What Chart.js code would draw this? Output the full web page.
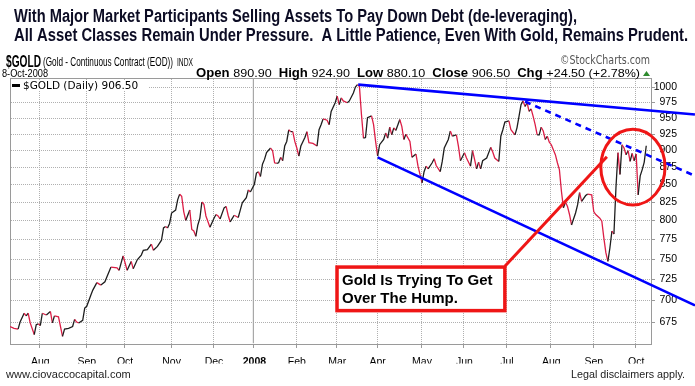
<!DOCTYPE html>
<html>
<head>
<meta charset="utf-8">
<script src="https://cdn.jsdelivr.net/npm/chart.js@4/dist/chart.umd.min.js"></script>
<style>
  html, body { margin: 0; padding: 0; background: #fff; overflow: hidden; }
</style>
</head>
<body>
<canvas id="goldChart" width="695" height="386"></canvas>

<script>
// trading day index (0 = 11-Jul-2007) and the close
const days = [
  0, 2, 4, 5, 7, 8, 9, 10, 12, 13, 14, 15, 16, 18, 20, 21, 22, 24, 26, 27, 29, 31, 32, 33, 34, 36, 37, 38, 40, 41,
  43, 45, 47, 48, 50, 53, 54, 56, 57, 58, 60, 61, 63, 65, 66, 68, 70, 71, 73, 75, 76, 77, 78, 79, 80, 82,
  83, 84, 85, 86, 87, 89, 90, 91, 92, 93, 94, 95, 96, 97, 99, 101, 102, 103, 104, 106, 107, 108, 109, 111, 113, 114,
  115, 117, 118, 119, 121, 122, 123, 124, 125, 126, 127, 129, 130, 131, 132, 133, 134, 135, 136, 137, 138, 139, 140,
  141, 142, 143, 144, 146, 147, 148, 150, 152, 153, 154, 155, 157, 158, 159, 161,
  162, 163, 164, 165, 167, 168, 170, 171, 172, 173, 174, 175, 176, 177, 179, 180, 181, 182, 183, 185, 186, 187, 188,
  189, 190, 191, 193, 194, 195, 196, 198, 199, 201, 202, 204, 205, 206, 207, 209, 210, 211, 213, 214, 215, 217, 218,
  219, 221, 222, 223, 225, 226, 228, 229, 230, 231, 232, 233, 234, 236, 238, 239, 240, 242,
  243, 244, 245, 247, 248, 250, 251, 252, 253, 254, 255, 256, 257, 258, 259, 260, 261, 262, 263, 264, 265, 266, 267,
  268, 270, 271, 272, 273, 274, 275, 276, 277, 278, 280, 281, 282, 283, 285, 286, 288, 289, 290, 292, 293, 294, 295,
  296, 297, 298, 299, 300, 301, 302, 303, 304, 305, 306, 307, 308, 309, 310, 311, 312, 313, 314, 315
];
const closes = [
  670, 668, 667, 675, 685, 682, 685, 674, 661, 672, 673, 671, 685, 683, 687, 674, 682, 681, 659, 667, 668, 670, 678, 675, 674, 677, 691, 693, 706, 712,
  721, 718, 722, 728, 740, 739, 736, 754, 745, 736, 747, 738, 749, 755, 761, 762, 769, 761, 766, 774, 790, 792, 790, 796, 810, 814,
  828, 836, 833, 812, 800, 814, 788, 786, 779, 794, 803, 825, 822, 806, 791, 803, 808, 806, 802, 817, 819, 807, 798, 807, 804, 814,
  824, 831, 842, 839, 850, 866, 868, 861, 879, 886, 896, 903, 899, 881, 880, 881, 889, 884, 906, 913, 931, 928, 928,
  913, 903, 891, 906, 919, 928, 911, 910, 906, 931, 939, 948, 946, 939, 960, 974,
  985, 971, 982, 977, 974, 977, 990, 1000, 1004, 1001, 955, 918, 919, 950, 953, 939, 913, 891, 908, 916, 926, 918, 935,
  923, 934, 930, 947, 936, 916, 924, 913, 889, 894, 876, 852, 868, 876, 872, 881, 887, 877, 868, 883, 903, 916, 929,
  921, 923, 906, 884, 896, 888, 876, 899, 886, 872, 882, 872, 884, 888, 904, 897, 888, 883,
  921, 931, 943, 945, 931, 923, 934, 952, 971, 977, 968, 974, 960, 964, 952, 939, 923, 923, 935, 929, 916, 921, 912,
  908, 893, 881, 871, 840, 817, 825, 819, 808, 794, 810, 821, 838, 826, 834, 836, 835, 812, 808, 803, 799, 777, 758,
  747, 764, 786, 782, 845, 896, 864, 908, 903, 893, 899, 883, 895, 884, 894, 835, 862, 871, 882, 906.5
];

// month boundaries on the trading-day axis
const monthPos = [14.5, 37.5, 56.5, 79.5, 100.5, 120.5, 141.5, 161.5, 181.5, 203.5, 224.5, 245.5, 267.5, 288.5, 309.5];
const monthLabels = ['Aug', 'Sep', 'Oct', 'Nov', 'Dec', '2008', 'Feb', 'Mar', 'Apr', 'May', 'Jun', 'Jul', 'Aug', 'Sep', 'Oct'];
const priceTicks = [675, 700, 725, 750, 775, 800, 825, 850, 875, 900, 925, 950, 975, 1000];

// last bar
const lastOpen = 890.90, lastHigh = 924.90, lastLow = 880.10;

// drawn trend lines, [day, price]
const upperTrend = [[172.4, 1004], [339.1, 955]];
const lowerTrend = [[182, 889], [339.1, 694]];
const dashTrend = [[255, 976], [339.1, 862]];
const pointerLine = [[245, 741], [295.5, 890]];
// circled area and note box, as day / price ranges
const circleDays = [292.5, 324.3], circlePrices = [821, 932];
const noteDays = [161.9, 245], notePrices = [688, 740];

const xMin = 0, xMax = 317.2, yMin = 651.2, yMax = 1015.2;
const FONT = "'Liberation Sans', Arial, sans-serif";
const RED = '#ef1616';
const BLUE = '#0000ff';
const GRID = '#b0b0b0';
const FRAME = '#9a9a9a';

const toXY = arr => arr.map(p => ({ x: p[0], y: p[1] }));

function drawGrid(chart) {
  const ctx = chart.ctx, a = chart.chartArea, xs = chart.scales.x, ys = chart.scales.y;
  ctx.save();
  ctx.fillStyle = GRID;
  // dotted grid, one pixel on, one off
  monthPos.forEach((v, i) => {
    if (i === 5) return;
    const x = Math.round(xs.getPixelForValue(v));
    for (let y = Math.ceil(a.top) + 1; y < a.bottom; y += 2) ctx.fillRect(x, y, 1, 1);
  });
  priceTicks.forEach(v => {
    const y = Math.round(ys.getPixelForValue(v));
    for (let x = Math.ceil(a.left) + 1; x < a.right; x += 2) ctx.fillRect(x, y, 1, 1);
  });
  // tick marks outside the frame
  ctx.fillStyle = FRAME;
  monthPos.forEach(v => ctx.fillRect(Math.round(xs.getPixelForValue(v)), Math.round(a.bottom), 1, 4));
  priceTicks.forEach(v => ctx.fillRect(Math.round(a.right), Math.round(ys.getPixelForValue(v)), 4, 1));
  // frame
  const l = Math.round(a.left), t = Math.round(a.top), r = Math.round(a.right), b = Math.round(a.bottom);
  ctx.fillRect(l, t, r - l + 1, 1);
  ctx.fillRect(l, b, r - l + 1, 1);
  ctx.fillRect(l, t, 1, b - t + 1);
  ctx.fillRect(r, t, 1, b - t + 1);
  ctx.restore();
}

const pagePlugin = {
  id: 'page',
  beforeDraw(chart) {
    const ctx = chart.ctx;
    ctx.save();
    ctx.fillStyle = '#fff';
    ctx.fillRect(0, 0, chart.width, chart.height);
    ctx.restore();
    drawGrid(chart);
  },
  afterDatasetsDraw(chart) {
    const ctx = chart.ctx, xs = chart.scales.x, ys = chart.scales.y;
    ctx.save();

    // legend line inside plot
    ctx.fillStyle = '#fff';
    ctx.fillRect(11, 80, 138, 10);
    ctx.fillStyle = '#000';
    ctx.fillRect(12, 84, 8, 3);
    ctx.font = '10.5px "DejaVu Sans", sans-serif';
    ctx.textBaseline = 'alphabetic';
    ctx.fillText('$GOLD (Daily) ' + closes[closes.length - 1].toFixed(2), 23, 89, 124);

    // note box
    const bx0 = xs.getPixelForValue(noteDays[0]), bx1 = xs.getPixelForValue(noteDays[1]);
    const by0 = ys.getPixelForValue(notePrices[1]), by1 = ys.getPixelForValue(notePrices[0]);
    ctx.fillStyle = '#fff';
    ctx.fillRect(bx0, by0, bx1 - bx0, by1 - by0);
    ctx.strokeStyle = RED;
    ctx.lineWidth = 3.5;
    ctx.strokeRect(bx0, by0, bx1 - bx0, by1 - by0);
    ctx.fillStyle = '#000';
    ctx.font = 'bold 15px ' + FONT;
    ctx.fillText('Gold Is Trying To Get', bx0 + 5, by0 + 18, 152);
    ctx.fillText('Over The Hump.', bx0 + 5, by0 + 36, 117);

    // circle
    const cx0 = xs.getPixelForValue(circleDays[0]), cx1 = xs.getPixelForValue(circleDays[1]);
    const cy0 = ys.getPixelForValue(circlePrices[1]), cy1 = ys.getPixelForValue(circlePrices[0]);
    ctx.beginPath();
    ctx.ellipse((cx0 + cx1) / 2, (cy0 + cy1) / 2, (cx1 - cx0) / 2, (cy1 - cy0) / 2, 0, 0, Math.PI * 2);
    ctx.strokeStyle = RED;
    ctx.lineWidth = 3;
    ctx.stroke();
    ctx.restore();
  },
  afterDraw(chart) {
    const ctx = chart.ctx;
    ctx.save();
    ctx.textBaseline = 'alphabetic';

    // headline
    ctx.fillStyle = '#0c0c24';
    ctx.font = 'bold 18px ' + FONT;
    ctx.fillText('With Major Market Participants Selling Assets To Pay Down Debt (de-leveraging),', 14, 22, 563);
    ctx.fillText('All Asset Classes Remain Under Pressure.  A Little Patience, Even With Gold, Remains Prudent.', 14, 41, 674);

    // symbol line
    ctx.fillStyle = '#000';
    ctx.font = 'bold 17px ' + FONT;
    ctx.fillText('$GOLD', 6, 67, 35);
    ctx.font = '12px ' + FONT;
    ctx.fillText('(Gold - Continuous Contract (EOD))', 43, 66, 130);
    ctx.font = '10px ' + FONT;
    ctx.fillText('INDX', 177, 66, 16);
    ctx.fillStyle = '#555';
    ctx.font = '12px "DejaVu Sans", sans-serif';
    ctx.fillText('\u00a9StockCharts.com', 560, 64, 90);

    // date and last bar values
    ctx.fillStyle = '#000';
    ctx.font = '11.5px ' + FONT;
    ctx.fillText('8-Oct-2008', 2, 77, 46);
    const last = closes[closes.length - 1], prev = closes[closes.length - 2];
    const chg = last - prev;
    const parts = [
      ['Open ', true], [lastOpen.toFixed(2) + '  ', false],
      ['High ', true], [lastHigh.toFixed(2) + '  ', false],
      ['Low ', true], [lastLow.toFixed(2) + '  ', false],
      ['Close ', true], [last.toFixed(2) + '  ', false],
      ['Chg ', true], ['+' + chg.toFixed(2) + ' (+' + (chg / prev * 100).toFixed(2) + '%)', false]
    ];
    const fontFor = b => (b ? 'bold 12px ' : '11.5px ') + FONT;
    let total = 0;
    parts.forEach(p => { ctx.font = fontFor(p[1]); total += ctx.measureText(p[0]).width; });
    const k = 444 / total;
    ctx.save();
    ctx.translate(196, 77);
    ctx.scale(k, 1);
    let px = 0;
    parts.forEach(p => { ctx.font = fontFor(p[1]); ctx.fillText(p[0], px, 0); px += ctx.measureText(p[0]).width; });
    ctx.restore();
    ctx.fillStyle = '#2e8b2e';
    ctx.beginPath();
    ctx.moveTo(643, 76);
    ctx.lineTo(650, 76);
    ctx.lineTo(646.5, 71);
    ctx.closePath();
    ctx.fill();

    // footer
    ctx.fillStyle = '#222';
    ctx.font = '11px ' + FONT;
    ctx.fillText('www.ciovaccocapital.com', 6, 378, 132);
    ctx.textAlign = 'right';
    ctx.fillText('Legal disclaimers apply.', 685, 378, 114);
    ctx.restore();
  }
};

new Chart(document.getElementById('goldChart'), {
  type: 'line',
  data: {
    datasets: [
      {
        data: toXY(pointerLine),
        borderColor: RED,
        borderWidth: 3,
        pointRadius: 0,
        clip: false,
        order: 1
      },
      {
        data: toXY(upperTrend),
        borderColor: BLUE,
        borderWidth: 2.6,
        pointRadius: 0,
        clip: false,
        order: 2
      },
      {
        data: toXY(lowerTrend),
        borderColor: BLUE,
        borderWidth: 2.6,
        pointRadius: 0,
        clip: false,
        order: 2
      },
      {
        data: toXY(dashTrend),
        borderColor: BLUE,
        borderWidth: 2.6,
        borderDash: [6, 5],
        pointRadius: 0,
        clip: false,
        order: 2
      },
      {
        data: days.map((d, i) => ({ x: d, y: closes[i] })),
        borderWidth: 1.3,
        borderColor: '#1e1e1e',
        segment: {
          borderColor: c => (c.p1.parsed.y < c.p0.parsed.y ? '#dc1e46' : '#1e1e1e')
        },
        pointRadius: 0,
        tension: 0,
        order: 5
      },
      {
        // solid year divider
        data: [{ x: monthPos[5], y: yMin }, { x: monthPos[5], y: yMax }],
        borderColor: '#a8a8a8',
        borderWidth: 1.2,
        pointRadius: 0,
        order: 10
      }
    ]
  },
  options: {
    responsive: false,
    animation: false,
    events: [],
    layout: { padding: { top: 78, left: 10, right: 18, bottom: 22.5 } },
    plugins: { legend: { display: false }, tooltip: { enabled: false } },
    scales: {
      x: {
        type: 'linear',
        min: xMin,
        max: xMax,
        afterBuildTicks: s => { s.ticks = monthPos.map(v => ({ value: v })); },
        afterFit: s => { s.height = 20; },
        grid: { display: false },
        border: { display: false },
        ticks: {
          autoSkip: false,
          maxRotation: 0,
          padding: 4,
          labelOffset: 1,
          color: '#000',
          font: c => ({ family: FONT, size: 10.5, weight: c.index === 5 ? 'bold' : 'normal' }),
          callback: (v, i) => monthLabels[i]
        }
      },
      y: {
        type: 'logarithmic',
        position: 'right',
        min: yMin,
        max: yMax,
        afterBuildTicks: s => { s.ticks = priceTicks.map(v => ({ value: v })); },
        afterFit: s => { s.width = 26.3; },
        grid: { display: false },
        border: { display: false },
        ticks: {
          padding: 4,
          crossAlign: 'far',
          color: '#000',
          font: { family: FONT, size: 10.5 },
          callback: v => String(v)
        }
      }
    }
  },
  plugins: [pagePlugin]
});
</script>
</body>
</html>
